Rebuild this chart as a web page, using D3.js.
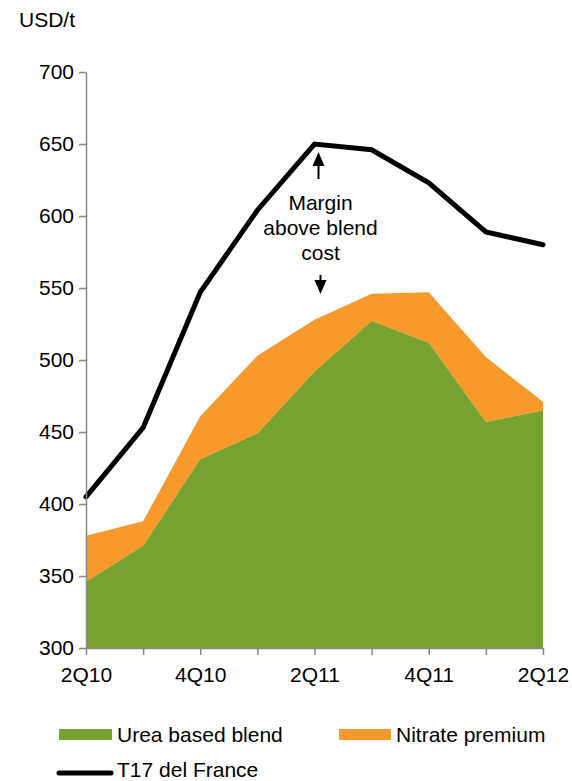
<!DOCTYPE html>
<html>
<head>
<meta charset="utf-8">
<script src="https://cdn.jsdelivr.net/npm/d3@7"></script>
<style>
  body { margin: 0; background: #fff; }
  svg text { font-family: Arial, "Liberation Sans", sans-serif; fill: #000; }
</style>
</head>
<body>
<div id="chart"></div>
<script>
// Quarters on the x axis (only every other one gets a label)
const quarters = ["2Q10", "3Q10", "4Q10", "1Q11", "2Q11", "3Q11", "4Q11", "1Q12", "2Q12"];
// Values, USD/t
const ureaBlend = [346, 371, 431, 449, 492, 527, 512, 457, 465];
const nitratePremium = [32, 17, 30, 54, 36, 19, 35, 45, 6];
const t17France = [405, 453, 547, 604, 650, 646, 623, 589, 580];
const yTicks = [300, 350, 400, 450, 500, 550, 600, 650, 700];

const colors = { blend: "#78a22f", premium: "#f7992b", line: "#000" };
const fontSize = "21px";

const width = 572, height = 781;
const svg = d3.select("#chart").append("svg")
    .attr("width", width)
    .attr("height", height);

// --------------------------------------
// Scales
const x = d3.scalePoint().domain(quarters).range([86, 543]);
const y = d3.scaleLinear().domain([300, 700]).range([648, 72]);

const rows = quarters.map((q, i) => ({
    q: q,
    blend: ureaBlend[i],
    total: ureaBlend[i] + nitratePremium[i],
    t17: t17France[i]
}));

// --------------------------------------
// Stacked areas
svg.append("path")
    .datum(rows)
    .attr("fill", colors.premium)
    .attr("d", d3.area().x(d => x(d.q)).y0(d => y(d.blend)).y1(d => y(d.total)));

svg.append("path")
    .datum(rows)
    .attr("fill", colors.blend)
    .attr("d", d3.area().x(d => x(d.q)).y0(y(300)).y1(d => y(d.blend)));

// T17 price line
svg.append("path")
    .datum(rows)
    .attr("fill", "none")
    .attr("stroke", colors.line)
    .attr("stroke-width", 5)
    .attr("stroke-linecap", "round")
    .attr("d", d3.line().x(d => x(d.q)).y(d => y(d.t17)));

// --------------------------------------
// Axes
const yAxis = svg.append("g")
    .attr("transform", "translate(" + x.range()[0] + ",0)")
    .call(d3.axisLeft(y).tickValues(yTicks).tickSize(7).tickSizeOuter(0).tickPadding(5));

const xAxis = svg.append("g")
    .attr("transform", "translate(0," + y(300) + ")")
    .call(d3.axisBottom(x).tickSize(7).tickSizeOuter(0).tickPadding(12)
        .tickFormat((d, i) => i % 2 === 0 ? d : ""));

[yAxis, xAxis].forEach(g => {
    g.selectAll("path, line").attr("stroke", "#898989").attr("stroke-width", 1.5);
    g.selectAll("text").style("font-size", fontSize).attr("fill", "#000");
});

// unit label
svg.append("text")
    .attr("x", 19)
    .attr("y", 27)
    .style("font-size", fontSize)
    .text("USD/t");

// --------------------------------------
// Annotation "Margin above blend cost"
const annX = x("2Q11") + 6;
const annLines = ["Margin", "above blend", "cost"];
svg.append("g").selectAll("text")
    .data(annLines)
    .join("text")
    .attr("x", annX)
    .attr("y", (d, i) => 210 + i * 25)
    .attr("text-anchor", "middle")
    .style("font-size", fontSize)
    .text(d => d);

function arrow(x0, yTail, yHead) {
    const dir = yHead < yTail ? 1 : -1;
    svg.append("line")
        .attr("x1", x0).attr("x2", x0)
        .attr("y1", yTail).attr("y2", yHead + dir * 10)
        .attr("stroke", "#000").attr("stroke-width", 2);
    svg.append("path")
        .attr("d", "M" + (x0 - 6) + "," + (yHead + dir * 14) + "L" + x0 + "," + yHead + "L" + (x0 + 6) + "," + (yHead + dir * 14) + "Z")
        .attr("fill", "#000");
}
arrow(annX - 2, 179, 152);
arrow(annX, 275, 294);

// --------------------------------------
// Legend
const legend = svg.append("g");
legend.append("rect").attr("x", 59).attr("y", 729).attr("width", 53).attr("height", 11).attr("fill", colors.blend);
legend.append("text").attr("x", 117).attr("y", 742).style("font-size", fontSize).text("Urea based blend");
legend.append("rect").attr("x", 339).attr("y", 729).attr("width", 52).attr("height", 11).attr("fill", colors.premium);
legend.append("text").attr("x", 396).attr("y", 742).style("font-size", fontSize).text("Nitrate premium");
legend.append("line").attr("x1", 59).attr("x2", 111).attr("y1", 773).attr("y2", 773)
    .attr("stroke", colors.line).attr("stroke-width", 5).attr("stroke-linecap", "round");
legend.append("text").attr("x", 117).attr("y", 777).style("font-size", fontSize).text("T17 del France");
</script>
</body>
</html>
